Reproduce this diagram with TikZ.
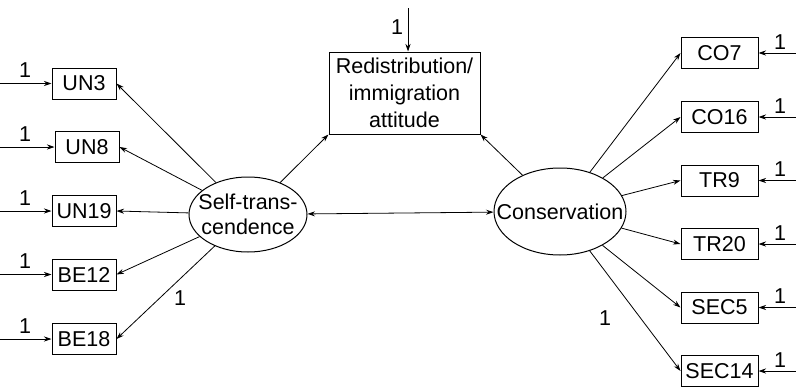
\documentclass[tikz,border=0pt]{standalone}
\usepackage{fontspec}
\setmainfont{Liberation Sans}
\usetikzlibrary{arrows.meta,shapes.geometric}
\begin{document}
\begin{tikzpicture}[x=1pt,y=-1pt, font=\fontsize{21.5}{27}\selectfont,
 obs/.style={draw, line width=1pt, minimum height=31pt, inner sep=0pt},
 lobs/.style={obs, minimum width=64pt},
 robs/.style={obs, minimum width=77pt},
 lat/.style={draw, ellipse, line width=1pt, inner sep=0pt, align=center},
 arr/.style={line width=0.8pt, -{Stealth[length=7.5pt,width=5pt]}},
 dbl/.style={line width=0.8pt, {Stealth[length=7.5pt,width=5pt]}-{Stealth[length=7.5pt,width=5pt]}},
 lbl/.style={inner sep=0pt}]
\useasboundingbox (0,0) rectangle (796,388);
% left indicators
\node[lobs] (un3) at (84,83.5) {UN3};
\node[lobs] (un8) at (87,147) {UN8};
\node[lobs] (un19) at (84,211) {UN19};
\node[lobs] (be12) at (84,274.5) {BE12};
\node[lobs] (be18) at (84,339) {BE18};
% right indicators
\node[robs] (co7) at (719.5,53) {CO7};
\node[robs] (co16) at (719.5,117) {CO16};
\node[robs] (tr9) at (719.5,180.5) {TR9};
\node[robs] (tr20) at (719.5,244) {TR20};
\node[robs] (sec5) at (719.5,307.5) {SEC5};
\node[robs] (sec14) at (719.5,371) {SEC14};
% latent
\node[lat, minimum width=118pt, minimum height=75pt] (st) at (248,214.5)
  {\makebox[0pt]{Self-trans-}\\[-2pt]\makebox[0pt]{cendence}};
\node[lat, minimum width=132pt, minimum height=87pt] (cons) at (560,211.5)
  {\makebox[0pt]{Conservation}};
% outcome
\node[draw, line width=1pt, minimum width=151pt, minimum height=82pt, inner sep=0pt, align=center] (rd) at (404.5,93)
  {Redistribution/\\immigration\\attitude};
% error arrows left
\foreach \n in {un3,un8,un19,be12,be18}{
  \coordinate (s\n) at (0,0 |- \n.west);
  \draw[arr] (s\n) -- (\n.west);
  \node[lbl] at ([xshift=25pt,yshift=13pt]s\n) {1};
}
% error arrows right
\foreach \n in {co7,co16,tr9,tr20,sec5,sec14}{
  \coordinate (s\n) at (796,0 |- \n.east);
  \draw[arr] (s\n) -- (\n.east);
  \node[lbl] at ([xshift=-16pt,yshift=11pt]s\n) {1};
}
% top error
\coordinate (rtop) at (408,8);
\draw[arr] (rtop) -- (rtop |- rd.north);
\node[lbl] at (397,27) {1};
% loadings
\foreach \n in {un3,un8,un19,be12,be18}{
  \draw[arr] (st) -- (\n.east);
}
\foreach \n in {co7,co16,tr9,tr20,sec5,sec14}{
  \draw[arr] (cons) -- (\n.west);
}
\draw[arr] (st) -- (rd.south west);
\draw[arr] (cons) -- (rd.south east);
\draw[dbl] (st) -- (cons);
\node[lbl] at (180,298) {1};
\node[lbl] at (605,318) {1};
\end{tikzpicture}
\end{document}
